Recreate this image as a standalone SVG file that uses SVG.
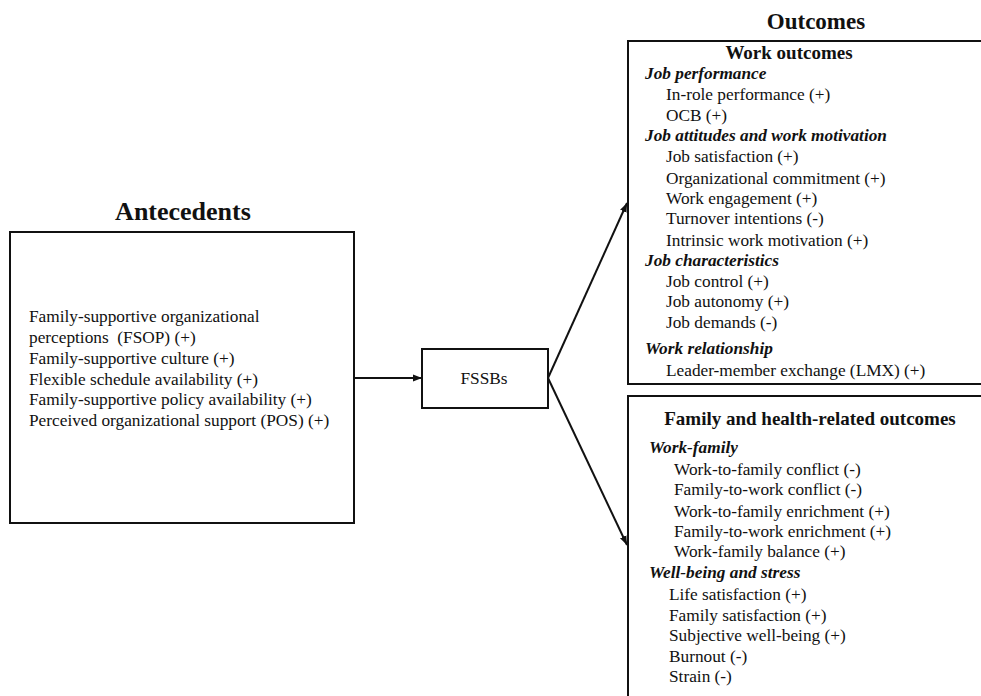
<svg xmlns="http://www.w3.org/2000/svg" width="981" height="696" viewBox="0 0 981 696">
<defs>
<style>
text{font-family:"Liberation Serif","Times New Roman",serif;fill:#111;}
.t{font-size:17.3px;}
.title{font-weight:bold;}
.h{font-size:19px;font-weight:bold;}
.s{font-size:17.3px;font-weight:bold;font-style:italic;}
.box{fill:#fff;stroke:#111;stroke-width:2;}
.conn{stroke:#111;stroke-width:2;fill:none;}
</style>
<marker id="arr" markerUnits="userSpaceOnUse" markerWidth="9" markerHeight="8" refX="9" refY="4" orient="auto">
<path d="M0,0.5 L9,4 L0,7.5 Z" fill="#111"/>
</marker>
</defs>
<rect width="981" height="696" fill="#fff"/>
<g id="connectors">
<line class="conn" x1="354" y1="378" x2="422" y2="378" marker-end="url(#arr)"/>
<line class="conn" x1="548" y1="378" x2="627" y2="203" marker-end="url(#arr)"/>
<line class="conn" x1="548" y1="378" x2="627" y2="545" marker-end="url(#arr)"/>
</g>
<g id="antecedents">
<text class="title" x="183" y="220" font-size="26" text-anchor="middle">Antecedents</text>
<rect class="box" x="10" y="232" width="344" height="291"/>
<text class="t" x="29" y="322">Family-supportive organizational</text>
<text class="t" x="29" y="343" xml:space="preserve">perceptions  (FSOP) (+)</text>
<text class="t" x="29" y="364">Family-supportive culture (+)</text>
<text class="t" x="29" y="384.5">Flexible schedule availability (+)</text>
<text class="t" x="29" y="405">Family-supportive policy availability (+)</text>
<text class="t" x="29" y="426">Perceived organizational support (POS) (+)</text>
</g>
<g id="fssbs">
<rect class="box" x="422" y="349" width="126" height="59"/>
<text class="t" x="484" y="384" text-anchor="middle">FSSBs</text>
</g>
<g id="outcomes-title">
<text class="title" x="816" y="29" font-size="23" text-anchor="middle">Outcomes</text>
</g>
<g id="work-outcomes">
<rect class="box" x="628" y="41" width="400" height="343"/>
<text class="h" x="789" y="59" text-anchor="middle">Work outcomes</text>
<text class="s" x="645" y="79">Job performance</text>
<text class="t" x="666" y="100">In-role performance (+)</text>
<text class="t" x="666" y="121">OCB (+)</text>
<text class="s" x="645" y="141">Job attitudes and work motivation</text>
<text class="t" x="666" y="162">Job satisfaction (+)</text>
<text class="t" x="666" y="184">Organizational commitment (+)</text>
<text class="t" x="666" y="204">Work engagement (+)</text>
<text class="t" x="666" y="224">Turnover intentions (-)</text>
<text class="t" x="666" y="246">Intrinsic work motivation (+)</text>
<text class="s" x="645" y="266">Job characteristics</text>
<text class="t" x="666" y="287">Job control (+)</text>
<text class="t" x="666" y="307">Job autonomy (+)</text>
<text class="t" x="666" y="328">Job demands (-)</text>
<text class="s" x="645" y="354">Work relationship</text>
<text class="t" x="666" y="376">Leader-member exchange (LMX) (+)</text>
</g>
<g id="family-outcomes">
<rect class="box" x="628" y="396" width="400" height="340"/>
<text class="h" x="810" y="425" text-anchor="middle">Family and health-related outcomes</text>
<text class="s" x="649" y="453">Work-family</text>
<text class="t" x="674" y="475">Work-to-family conflict (-)</text>
<text class="t" x="674" y="495">Family-to-work conflict (-)</text>
<text class="t" x="674" y="517">Work-to-family enrichment (+)</text>
<text class="t" x="674" y="537">Family-to-work enrichment (+)</text>
<text class="t" x="674" y="557">Work-family balance (+)</text>
<text class="s" x="649" y="578">Well-being and stress</text>
<text class="t" x="669" y="600">Life satisfaction (+)</text>
<text class="t" x="669" y="621">Family satisfaction (+)</text>
<text class="t" x="669" y="641">Subjective well-being (+)</text>
<text class="t" x="669" y="662">Burnout (-)</text>
<text class="t" x="669" y="682">Strain (-)</text>
</g>
</svg>
